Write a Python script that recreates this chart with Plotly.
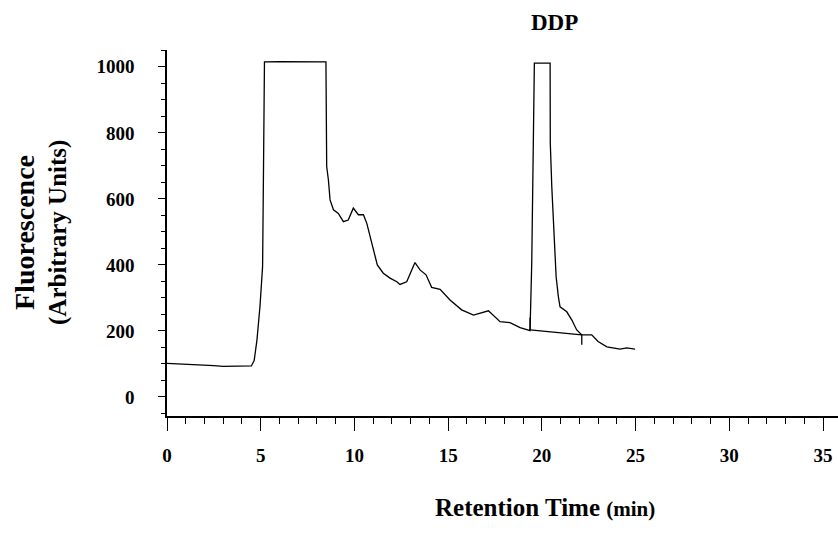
import plotly.graph_objects as go

# Chromatogram trace (retention time in min, fluorescence in arbitrary units)
time_min = [0, 0.5, 1.0, 1.5, 2.0, 2.5, 3.0, 3.5, 4.0, 4.3, 4.5, 4.65, 4.8, 4.96, 5.1, 5.15, 5.2,
            6.0, 7.0, 8.48, 8.52, 8.61, 8.7, 8.88, 9.14, 9.41, 9.67, 9.94, 10.21, 10.48, 10.66,
            10.92, 11.22, 11.54, 11.9, 12.26, 12.43, 12.79, 12.97, 13.23, 13.5, 13.82, 14.12,
            14.57, 15.1, 15.72, 16.35, 16.7, 17.15, 17.77, 18.3, 18.84, 19.37, 19.46, 19.6,
            20.44, 20.45, 20.53, 20.65, 20.76, 20.88, 20.97, 21.33, 21.6, 21.86, 22.13, 22.66,
            23.0, 23.47, 24.17, 24.53, 24.97]
fluorescence = [102, 101, 100, 99, 98, 95, 93, 93, 93, 95, 94, 110, 173, 274, 395, 700, 1015,
                1016, 1015, 1015, 698, 658, 597, 567, 556, 531, 536, 572, 552, 552, 526,
                466, 400, 375, 360, 349, 341, 349, 375, 407, 385, 370, 332,
                326, 294, 264, 248, 254, 261, 228, 225, 210, 201, 405, 1011,
                1011, 769, 637, 486, 365, 304, 273, 258, 233, 203, 188, 188,
                168, 152, 145, 149, 145]

# Integration baseline under the DDP peak, with start/end markers
baseline_time = [19.37, 19.37, 19.37, None, 19.37, 22.13, None, 22.13, 22.13]
baseline_value = [240, 203, 203, None, 203, 188, None, 190, 158]

peak_label = "DDP"
peak_label_time = 20.7

x_tick_vals = [0, 5, 10, 15, 20, 25, 30, 35]
y_tick_vals = [0, 200, 400, 600, 800, 1000]

FONT = "Liberation Serif"

fig = go.Figure()
fig.add_trace(go.Scatter(x=time_min, y=fluorescence, mode="lines",
                         line=dict(color="black", width=1.3), showlegend=False))
fig.add_trace(go.Scatter(x=baseline_time, y=baseline_value, mode="lines",
                         line=dict(color="black", width=1.3), showlegend=False))

fig.update_layout(
    width=838, height=533,
    paper_bgcolor="white", plot_bgcolor="white",
    margin=dict(l=167, r=0, t=50, b=117),
    font=dict(family=FONT, color="black"),
)
fig.update_xaxes(
    range=[0, 35.8], tickvals=x_tick_vals, ticktext=[str(v) for v in x_tick_vals],
    showgrid=False, zeroline=False, showline=True, linecolor="black", linewidth=1.5,
    ticks="outside", ticklen=13, tickwidth=1.3, tickcolor="black",
    tickfont=dict(family=FONT, size=19, color="black", weight="bold"),
    ticklabelstandoff=8, automargin=False,
    minor=dict(dtick=1, tick0=0, ticks="outside", ticklen=6, tickwidth=1.2, tickcolor="black"),
)
fig.update_yaxes(
    range=[-57.6, 1051], tickvals=y_tick_vals, ticktext=[str(v) for v in y_tick_vals],
    showgrid=False, zeroline=False, showline=True, linecolor="black", linewidth=1.5,
    ticks="outside", ticklen=7, tickwidth=1.3, tickcolor="black",
    tickfont=dict(family=FONT, size=19, color="black", weight="bold"),
    ticklabelstandoff=20, automargin=False,
    minor=dict(dtick=50, tick0=0, ticks="outside", ticklen=4, tickwidth=1.2, tickcolor="black"),
)

fig.add_annotation(x=peak_label_time, y=1.074, xref="x", yref="paper", text="<b>" + peak_label + "</b>",
                   showarrow=False, font=dict(family=FONT, size=23, color="black"),
                   xanchor="center", yanchor="middle")
fig.add_annotation(x=(545 - 167) / 671, y=(416 - 507) / 366, xref="paper", yref="paper",
                   text="<b>Retention Time <span style='font-size:21px'>(min)</span></b>",
                   showarrow=False, font=dict(family=FONT, size=25, color="black"),
                   xanchor="center", yanchor="middle")
fig.add_annotation(x=(24 - 167) / 671, y=(416 - 233) / 366, xref="paper", yref="paper",
                   text="<b>Fluorescence</b>", textangle=-90,
                   showarrow=False, font=dict(family=FONT, size=28, color="black"),
                   xanchor="center", yanchor="middle")
fig.add_annotation(x=(58 - 167) / 671, y=(416 - 233) / 366, xref="paper", yref="paper",
                   text="<b>(Arbitrary Units)</b>", textangle=-90,
                   showarrow=False, font=dict(family=FONT, size=25, color="black"),
                   xanchor="center", yanchor="middle")

fig.write_html("out.html", config={"displayModeBar": False},
               post_script="document.body.style.margin='0';document.body.style.overflow='hidden';")
